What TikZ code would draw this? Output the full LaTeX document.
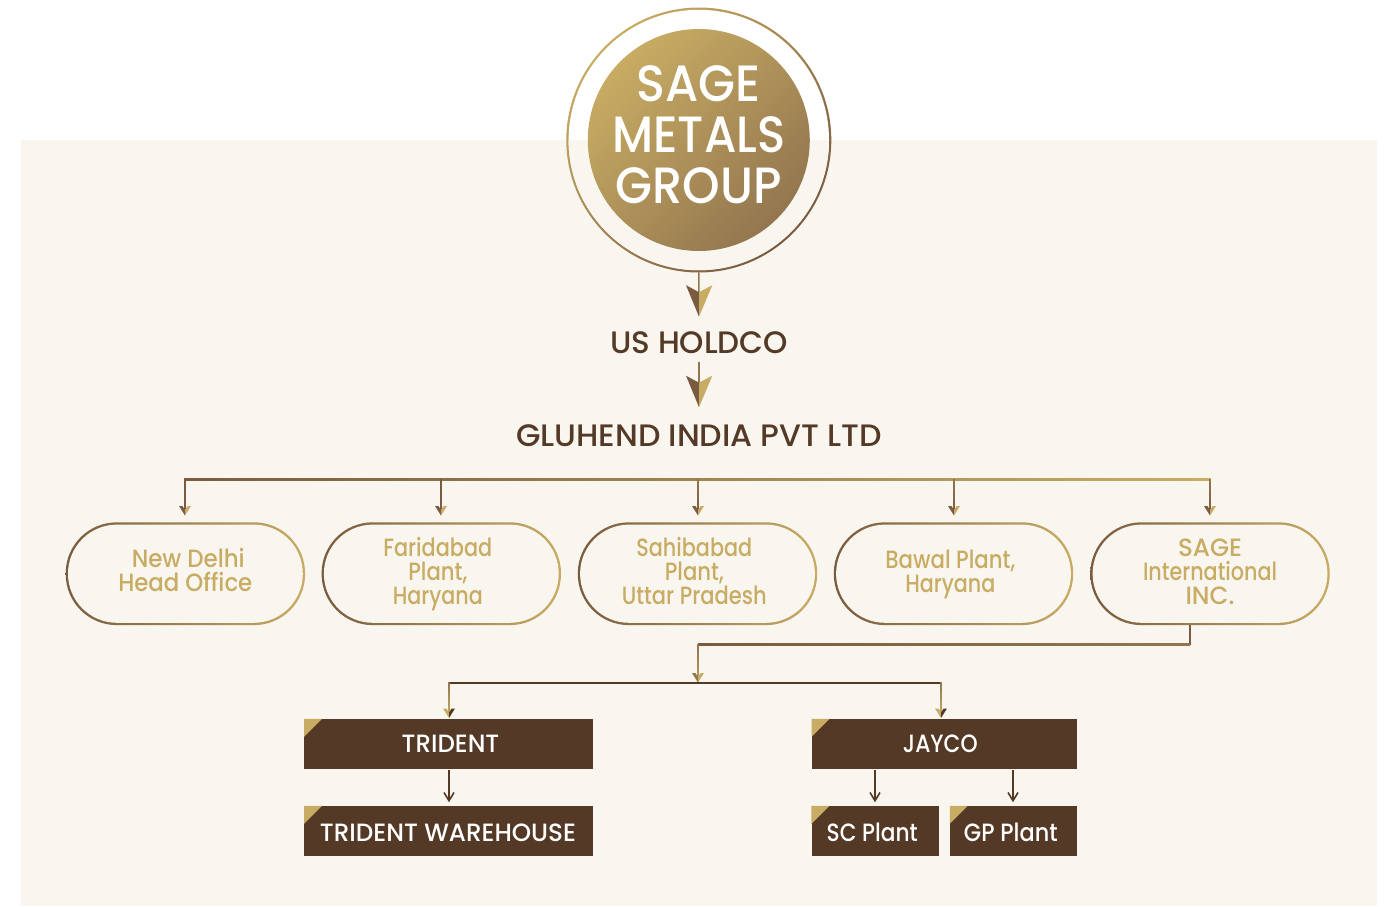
\documentclass[tikz,border=0pt]{standalone}
\usepackage{graphicx}
\usepackage{fontspec}
\usetikzlibrary{calc}
\setmainfont{Poppins Medium}
\definecolor{bgc}{HTML}{F9F6F0}
\definecolor{gold}{HTML}{C8AC63}
\definecolor{midg}{HTML}{B89C5C}
\definecolor{tan}{HTML}{93764F}
\definecolor{brn}{HTML}{7A5B3F}
\definecolor{dark}{HTML}{543926}
\newcommand{\tw}[2]{\resizebox{#1pt}{\height}{#2}}
% gradient connectors between two named points
\newcommand{\hgrad}[4]{\shade[left color=#3,right color=#4] ($(#1)+(0,-0.7)$) rectangle ($(#2)+(0,0.7)$);}
\newcommand{\vgrad}[4]{\shade[top color=#3,bottom color=#4] ($(#1)+(-0.8,0)$) rectangle ($(#2)+(0.8,0)$);}
% small chevron head with tip at a named point
\newcommand{\chev}[3]{%
  \fill[#2] (#1) -- ++(-6,-9.5) -- ++(3.4,0) -- ++(2.6,4) -- cycle;
  \fill[#3] (#1) -- ++(6,-9.5) -- ++(-3.4,0) -- ++(-2.6,4) -- cycle;}
% large split head
\newcommand{\bighead}[1]{%
  \fill[brn] (#1) -- ++(-13,-31.5) -- ++(13,7) -- cycle;
  \fill[gold] (#1) -- ++(13.3,-31.5) -- ++(-13.3,7) -- cycle;}
\tikzset{
  x=1pt,y=-1pt,
  pillout/.style={rounded corners=51pt,minimum width=239.4pt,minimum height=102.8pt,inner sep=0pt,left color=brn,right color=gold},
  pillin/.style={rounded corners=49pt,minimum width=234.8pt,minimum height=98.2pt,inner sep=0pt,fill=bgc},
  pilltxt/.style={text=gold,anchor=base,align=center,font=\fontsize{25}{24}\selectfont,inner sep=0pt},
  heading/.style={text=dark,anchor=base,inner sep=0pt,font=\fontsize{31}{31}\selectfont},
  boxn/.style={fill=dark,inner sep=0pt,minimum height=50pt},
  boxtxt/.style={text=white,anchor=base,inner sep=0pt,font=\fontsize{25}{25}\selectfont},
  golddisc/.style={circle,inner sep=0pt,top color=gold,middle color=midg,bottom color=tan,shading angle=45},
  conn/.style={line width=1.6pt},
}
\begin{document}
\begin{tikzpicture}
\useasboundingbox (0,0) rectangle (1394,906);
\fill[bgc] (21,140) rectangle (1377,906);
% logo
\node[circle,minimum size=265pt,inner sep=0pt,top color=gold,bottom color=brn,shading angle=45] (ring) at (698.8,140) {};
\fill[white] (ring.center) circle[radius=130.2];
\begin{scope}
\clip (560,140) rectangle (840,280);
\fill[bgc] (ring.center) circle[radius=130.2];
\end{scope}
\node[golddisc,minimum size=222pt] (disc) at (698.8,140) {};
\node[text=white,anchor=base,align=center,inner sep=0pt,font=\fontsize{51}{51}\selectfont] (logotxt) at (698.8,203) {\tw{124}{SAGE}\\\tw{173}{METALS}\\\tw{166}{GROUP}};
% headings
\node[heading] (us) at (699,353) {\tw{178}{US HOLDCO}};
\node[heading] (gl) at (699,446) {\tw{366}{GLUHEND INDIA PVT LTD}};
\coordinate (tipa) at (699,316.7);
\coordinate (tipb) at (699,407.2);
\coordinate (usb) at (699,361.7);
\draw[tan,conn] (ring.south) -- (699,300);
\bighead{tipa}
\draw[tan,conn] (usb) -- (699,390);
\bighead{tipb}
% pills
\foreach \nm/\cx in {p1/185.4,p2/441.3,p3/697.5,p4/953.5,p5/1210}{
  \node[pillout] (\nm) at (\cx,573.7) {};
  \node[pillin] at (\nm) {};
}
\node[pilltxt] (t1) at (185.3,591.7) {\hspace*{6pt}\tw{113}{New Delhi}\\\tw{134}{Head Office}};
\node[pilltxt] (t2) at (437.8,604) {\tw{109}{Faridabad}\\\tw{59}{Plant,}\\\tw{90}{Haryana}};
\node[pilltxt] (t3) at (694.3,604) {\tw{116}{Sahibabad}\\\tw{59}{Plant,}\\\tw{145}{Uttar Pradesh}};
\node[pilltxt] (t4) at (950.3,592) {\tw{130}{Bawal Plant,}\\\tw{90}{Haryana}};
\node[pilltxt] (t5) at (1210,604) {\tw{64}{SAGE}\\\tw{134}{International}\\\tw{49}{INC.}};
% top bus
\coordinate (busl) at (184.2,479.6);
\coordinate (busr) at (1210.8,479.6);
\hgrad{busl}{busr}{brn}{gold}
\foreach \cx/\nm/\ca in {185/p1/brn,441/p2/brn,698/p3/tan,954/p4/tan,1210/p5/tan}{
  \coordinate (bt) at (\cx,479.5);
  \coordinate (bb) at (\cx,513);
  \coordinate (bh) at (\cx,515.5);
  \vgrad{bt}{bb}{\ca}{brn}
  \chev{bh}{brn}{gold}
}
% boxes
\node[boxn,minimum width=288.4pt] (tr) at (448.5,744) {};
\node[boxn,minimum width=288.4pt] (wh) at (448.5,831) {};
\node[boxn,minimum width=265pt] (ja) at (944.2,744) {};
\node[boxn,minimum width=127.3pt] (sc) at (875.3,831) {};
\node[boxn,minimum width=126.7pt] (gp) at (1013.3,831) {};
\foreach \b in {tr,wh,ja,sc,gp}{
  \fill[gold] (\b.north west) -- ++(18,0) -- ++(-18,18) -- cycle;
}
\node[boxtxt] at (450.5,752) {\tw{97.6}{TRIDENT}};
\node[boxtxt] at (448,841) {\tw{256}{TRIDENT WAREHOUSE}};
\node[boxtxt] at (940.3,752) {\tw{74.7}{JAYCO}};
\node[boxtxt] at (872.2,841) {\tw{91}{SC Plant}};
\node[boxtxt] at (1010.8,841) {\tw{93.7}{GP Plant}};
% SAGE to subsidiaries
\coordinate (sa) at (1190,644.6);
\coordinate (sb) at (698,644.6);
\coordinate (sc1) at (698,682.5);
\draw[brn,conn] (p5.south -| sa) -- (sa);
\hgrad{sb}{sa}{brn}{tan}
\vgrad{sb}{sc1}{tan}{midg}
\chev{sc1}{tan}{gold}
\coordinate (lbl) at (449,682.8);
\coordinate (lbr) at (941,682.8);
\draw[dark,line width=1.4pt,line cap=rect] (lbl) -- (lbr);
\coordinate (dl) at (449,716);
\coordinate (dr) at (941,716);
\vgrad{lbl}{dl}{tan}{gold}
\vgrad{lbr}{dr}{tan}{gold}
\coordinate (tl) at (449,718);
\coordinate (tr2) at (941,718);
\chev{tl}{gold}{dark}
\chev{tr2}{gold}{dark}
% lower arrows
\foreach \xx/\src in {449/tr,875/ja,1013/ja}{
  \coordinate (ac) at (\xx,800.7);
  \draw[dark,conn] (\src.south -| ac) ++(0,1) -- (\xx,799);
  \draw[dark,conn] (\xx-5,792.5) -- (ac) -- (\xx+5,792.5);
}
\end{tikzpicture}
\end{document}
